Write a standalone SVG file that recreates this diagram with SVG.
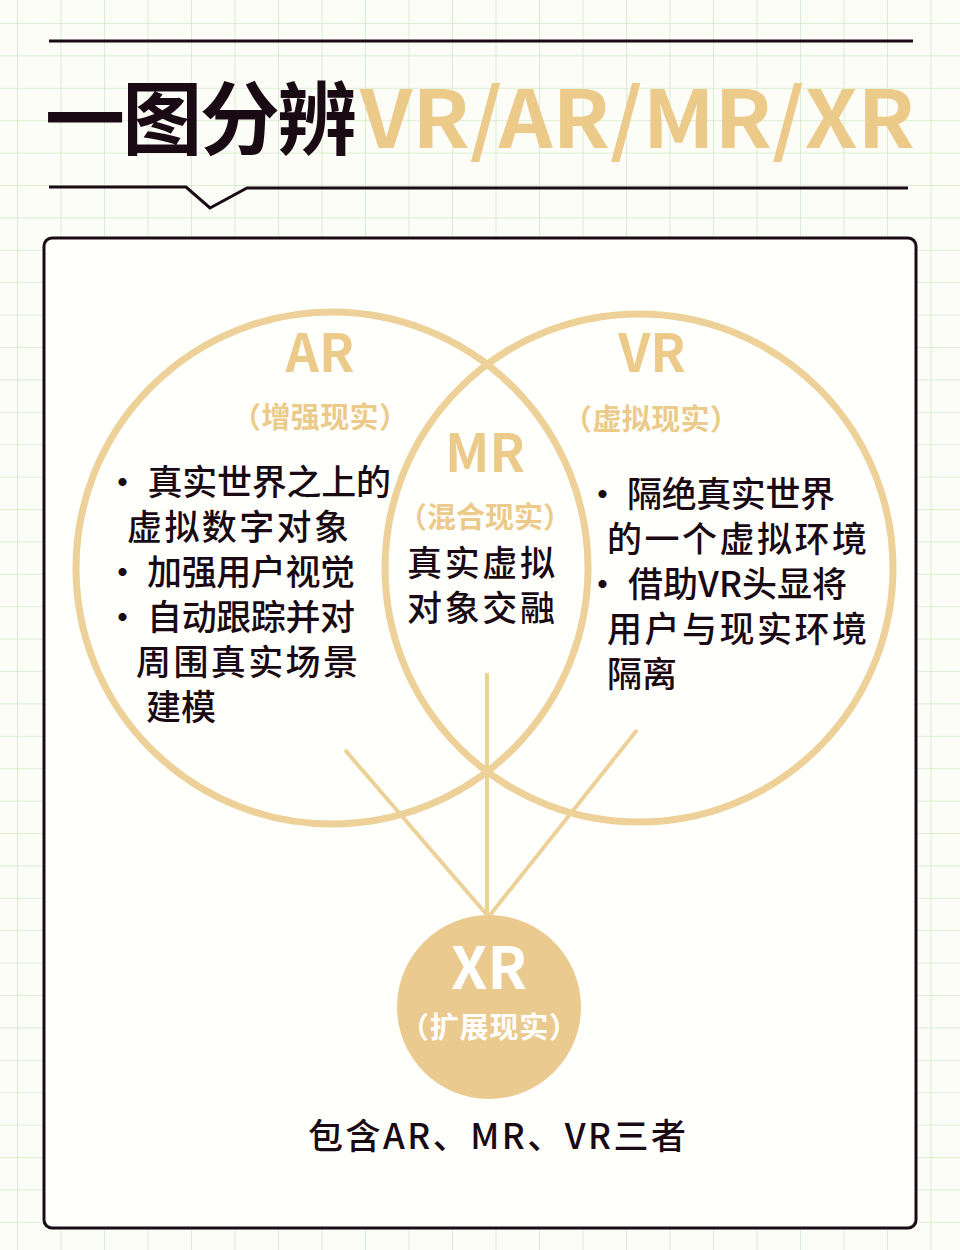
<svg xmlns="http://www.w3.org/2000/svg" width="960" height="1250" viewBox="0 0 960 1250">
<defs>
<pattern id="g" x="17" y="23" width="43.5" height="32.4" patternUnits="userSpaceOnUse">
<path d="M0 0V32.4M0 0H43.5" fill="none" stroke="#cfeac6" stroke-width="1.6"/>
</pattern>
<style>
.t{font-family:"Noto Sans CJK SC",sans-serif;font-weight:bold}
.b{fill:#1a0a14;font-family:"Noto Sans CJK SC",sans-serif;font-size:35px;font-weight:500}
.gold{fill:#ecca8a}
.c{fill:none;stroke:#edd198;stroke-width:7}
.l{stroke:#edd198;stroke-width:4}
</style>
</defs>
<rect width="960" height="1250" fill="#fdfdf8"/>
<rect width="960" height="1250" fill="url(#g)"/>
<g id="title">
<line x1="49" y1="41" x2="913" y2="41" stroke="#1a0a14" stroke-width="3"/>
<polyline points="49,187 186,187 210,208 247,188 908,188" fill="none" stroke="#1a0a14" stroke-width="3"/>
<text x="45" y="148" class="t" font-size="80" fill="#1a0a14" textLength="312">一图分辨</text>
<text x="360" y="148" class="t gold" font-size="80" textLength="555" lengthAdjust="spacingAndGlyphs">VR/AR/MR/XR</text>
</g>
<rect x="44" y="238" width="872" height="990" rx="8" fill="#fffffc" stroke="#1a0a14" stroke-width="3"/>
<g id="connectors">
<line class="l" x1="345" y1="750" x2="487" y2="915"/>
<line class="l" x1="487" y1="673" x2="487" y2="915"/>
<line class="l" x1="637" y1="730" x2="490" y2="915"/>
</g>
<g id="ar">
<circle class="c" cx="332" cy="568" r="256"/>
<text x="320" y="372" class="t gold" font-size="52" text-anchor="middle">AR</text>
<text x="232" y="428" class="t gold" font-size="29" textLength="176">（增强现实）</text>
<text class="b"><tspan x="105" y="495" textLength="286">· 真实世界之上的</tspan><tspan x="127" y="540" textLength="222">虚拟数字对象</tspan><tspan x="105" y="585" textLength="250">· 加强用户视觉</tspan><tspan x="105" y="630" textLength="250">· 自动跟踪并对</tspan><tspan x="136" y="675" textLength="222">周围真实场景</tspan><tspan x="146" y="720">建模</tspan></text>
</g>
<g id="vr">
<circle class="c" cx="639" cy="568" r="254"/>
<text x="652" y="372" class="t gold" font-size="52" text-anchor="middle">VR</text>
<text x="563" y="430" class="t gold" font-size="29" textLength="176">（虚拟现实）</text>
<text class="b"><tspan x="585" y="507" textLength="250">· 隔绝真实世界</tspan><tspan x="607" y="552" textLength="260">的一个虚拟环境</tspan><tspan x="585" y="597" textLength="262">· 借助VR头显将</tspan><tspan x="607" y="642" textLength="260">用户与现实环境</tspan><tspan x="607" y="687">隔离</tspan></text>
</g>
<g id="mr">
<text x="485" y="472" class="t gold" font-size="52" text-anchor="middle">MR</text>
<text x="398" y="528" class="t gold" font-size="29" textLength="174">（混合现实）</text>
<text class="b"><tspan x="407" y="576" textLength="148">真实虚拟</tspan><tspan x="407" y="621" textLength="148">对象交融</tspan></text>
</g>
<g id="xr">
<circle cx="489" cy="1007" r="92" fill="#ebca8f"/>
<text x="489" y="989" class="t" font-size="58" fill="#fff" text-anchor="middle">XR</text>
<text x="400" y="1038" class="t" font-size="29" fill="#fff" textLength="178">（扩展现实）</text>
<text x="308" y="1149" class="b" textLength="378">包含AR、MR、VR三者</text>
</g>
</svg>
